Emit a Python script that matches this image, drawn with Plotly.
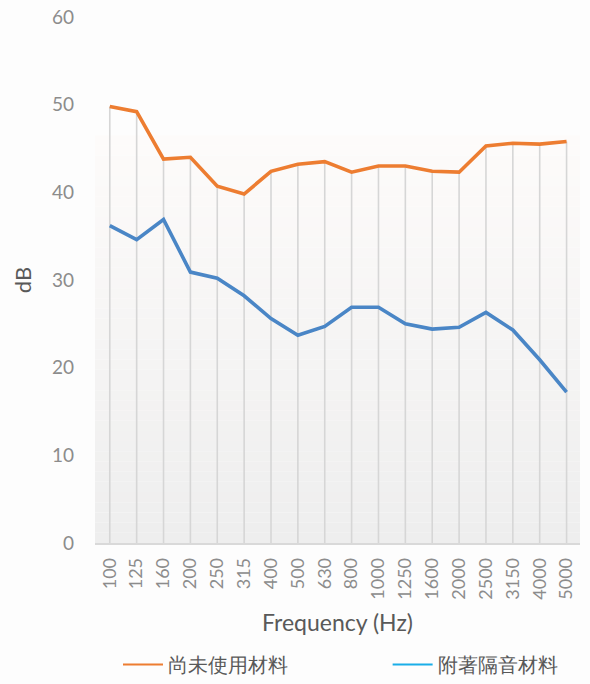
import plotly.graph_objects as go

freqs = ["100", "125", "160", "200", "250", "315", "400", "500", "630", "800",
         "1000", "1250", "1600", "2000", "2500", "3150", "4000", "5000"]
untreated = [49.8, 49.2, 43.8, 44.0, 40.7, 39.8, 42.4, 43.2, 43.5, 42.3,
             43.0, 43.0, 42.4, 42.3, 45.3, 45.6, 45.5, 45.8]
treated = [36.2, 34.6, 36.9, 30.9, 30.2, 28.2, 25.6, 23.7, 24.7, 26.9,
           26.9, 25.0, 24.4, 24.6, 26.3, 24.3, 20.9, 17.2]
series_names = ["尚未使用材料", "附著隔音材料"]
y_ticks = [0, 10, 20, 30, 40, 50, 60]

FONT = "Lato, 'Open Sans', sans-serif"
ORANGE = "#ed7d31"
BLUE_LINE = "#4a86c6"
BLUE_LEG = "#1aaee8"

fig = go.Figure()

# drop lines from the upper series to the axis
dx, dy = [], []
for f, v in zip(freqs, untreated):
    dx += [f, f, None]
    dy += [0, v, None]
fig.add_trace(go.Scatter(x=dx, y=dy, mode="lines", line=dict(color="#d6d6d6", width=1.6),
                         showlegend=False, hoverinfo="skip"))

fig.add_trace(go.Scatter(x=freqs, y=untreated, mode="lines", line=dict(color=ORANGE, width=3.6),
                         showlegend=False, name=series_names[0]))
fig.add_trace(go.Scatter(x=freqs, y=treated, mode="lines", line=dict(color=BLUE_LINE, width=3.6),
                         showlegend=False, name=series_names[1]))

# legend entries (one legend per entry so each can be placed)
fig.add_trace(go.Scatter(x=[None], y=[None], mode="lines", line=dict(color=ORANGE, width=2),
                         name=series_names[0], legend="legend"))
fig.add_trace(go.Scatter(x=[None], y=[None], mode="lines", line=dict(color=BLUE_LEG, width=2),
                         name=series_names[1], legend="legend2"))

# background gradient panel
shapes = []
n = 40
top = 46.5
c0 = (253, 251, 250)
c1 = (238, 238, 238)
for i in range(n):
    t = i / (n - 1)
    col = tuple(int(round(c0[k] + (c1[k] - c0[k]) * t)) for k in range(3))
    y_hi = top - top * i / n
    y_lo = top - top * (i + 1) / n
    shapes.append(dict(type="rect", xref="x domain", yref="y", x0=0, x1=1, y0=y_lo, y1=y_hi,
                       fillcolor="rgb(%d,%d,%d)" % col, line=dict(width=0), layer="below"))

leg_common = dict(orientation="h", xref="container", yref="container", xanchor="left",
                  y=-0.014, yanchor="bottom", font=dict(size=20, color="#595959"),
                  itemwidth=40, bgcolor="rgba(0,0,0,0)")

fig.update_layout(
    width=590, height=684,
    margin=dict(l=95, r=10, t=17, b=141, autoexpand=False),
    paper_bgcolor="#fdfdfd",
    plot_bgcolor="rgba(0,0,0,0)",
    shapes=shapes,
    font=dict(family=FONT, color="#7f7f7f"),
    xaxis=dict(
        type="category", range=[-0.55, 17.5], tickangle=-90, automargin=False,
        tickfont=dict(size=18, color="#8c8c8c"), ticklabelstandoff=6,
        showgrid=False, showline=True, linecolor="#d9d9d9", linewidth=1.5,
        ticks="", ticklen=0,
        title=dict(text="Frequency (Hz)", font=dict(size=23, color="#595959"), standoff=16),
    ),
    yaxis=dict(
        range=[0, 60], tickvals=y_ticks, ticktext=[str(t) for t in y_ticks], automargin=False,
        tickfont=dict(size=19, color="#8c8c8c"),
        showgrid=False, zeroline=False, showline=False, ticks="", ticklabelstandoff=20,
        title=dict(text="dB", font=dict(size=22, color="#595959"), standoff=14),
    ),
    legend=dict(x=0.2, **leg_common),
    legend2=dict(x=0.657, **leg_common),
)

fig.write_html("out.html", config={"displayModeBar": False},
               post_script="document.body.style.margin='0';")
